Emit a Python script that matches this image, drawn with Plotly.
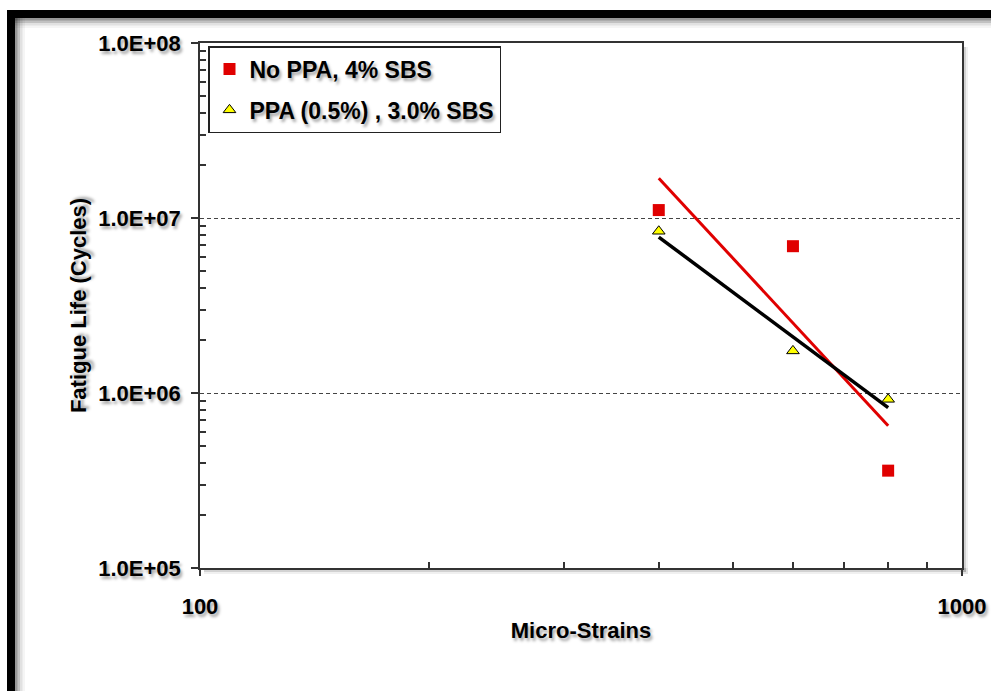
import numpy as np
import plotly.graph_objects as go

# ---- data ----
strain = [400, 600, 800]
life_no_ppa = [1.11e7, 6.9e6, 3.6e5]
life_ppa = [8.4e6, 1.74e6, 9.2e5]
name_no_ppa = "No PPA, 4% SBS"
name_ppa = "PPA (0.5%) , 3.0% SBS"
x_ticks = [100, 1000]
x_ticktext = ["100", "1000"]
y_ticks = [1e5, 1e6, 1e7, 1e8]
y_ticktext = ["1.0E+05", "1.0E+06", "1.0E+07", "1.0E+08"]

# minor tick positions: digits 2..9 inside each decade
x_minor = [d * 100 for d in range(2, 10)]
y_minor = [d * 10 ** e for e in (5, 6, 7) for d in range(2, 10)]

# power-law trendlines (fitted in log-log space)
def power_fit(x, y):
    b, a = np.polyfit(np.log10(x), np.log10(y), 1)
    xs = np.array([min(x), max(x)], dtype=float)
    return xs, 10 ** (a + b * np.log10(xs))

tx1, ty1 = power_fit(strain, life_no_ppa)
tx2, ty2 = power_fit(strain, life_ppa)

W, H = 991, 691
L, R, T, B = 200, 29, 43, 123
PW, PH = W - L - R, H - T - B

def px(x):
    return (x - L) / PW

def py(y):
    return (H - B - y) / PH

FONT = "Liberation Sans, Arial, sans-serif"
SHADOW = "2px 3px 3px rgba(0,0,0,0.35)"
RED = "#e00000"

fig = go.Figure()
fig.add_trace(go.Scatter(x=tx1, y=ty1, mode="lines", line=dict(color=RED, width=3),
                         showlegend=False, hoverinfo="skip"))
fig.add_trace(go.Scatter(x=tx2, y=ty2, mode="lines", line=dict(color="black", width=3.5),
                         showlegend=False, hoverinfo="skip"))
fig.add_trace(go.Scatter(x=strain, y=life_no_ppa, mode="markers", name=name_no_ppa,
                         legendgroup="a",
                         marker=dict(symbol="square", size=12, color=RED,
                                     line=dict(width=0))))
fig.add_trace(go.Scatter(x=strain, y=life_ppa, mode="markers", name=name_ppa,
                         legendgroup="b",
                         marker=dict(symbol="triangle-up", size=11, color="#ffff00",
                                     line=dict(width=1, color="black"))))

shapes = []
# shadows of outer frame
for i, op in enumerate([0.22, 0.14, 0.08, 0.04]):
    shapes.append(dict(type="rect", xref="paper", yref="paper",
                       x0=px(15), x1=px(991), y0=py(18 + 2.5 * (i + 1)), y1=py(18),
                       fillcolor=f"rgba(0,0,0,{op})", line=dict(width=0), layer="below"))
    shapes.append(dict(type="rect", xref="paper", yref="paper",
                       x0=px(15), x1=px(15 + 2.5 * (i + 1)), y0=py(691), y1=py(18),
                       fillcolor=f"rgba(0,0,0,{op})", line=dict(width=0), layer="below"))
# shadow of plot area border
for i, op in enumerate([0.2, 0.12, 0.06]):
    shapes.append(dict(type="rect", xref="paper", yref="paper",
                       x0=1, x1=px(L + PW + 2 * (i + 1)), y0=py(H - B + 2 * (i + 1)), y1=py(T + 4),
                       fillcolor=f"rgba(0,0,0,{op})", line=dict(width=0), layer="below"))
    shapes.append(dict(type="rect", xref="paper", yref="paper",
                       x0=px(L + 4), x1=px(L + PW + 2 * (i + 1)), y0=py(H - B + 2 * (i + 1)), y1=0,
                       fillcolor=f"rgba(0,0,0,{op})", line=dict(width=0), layer="below"))
# outer black frame
shapes.append(dict(type="rect", xref="paper", yref="paper",
                   x0=px(7), x1=px(991), y0=py(18), y1=py(10),
                   fillcolor="black", line=dict(width=0), layer="above"))
shapes.append(dict(type="rect", xref="paper", yref="paper",
                   x0=px(7), x1=px(15), y0=py(691), y1=py(10),
                   fillcolor="black", line=dict(width=0), layer="above"))

fig.update_layout(
    width=W, height=H,
    margin=dict(l=L, r=R, t=T, b=B, pad=0, autoexpand=False),
    paper_bgcolor="white", plot_bgcolor="white",
    font=dict(family=FONT, size=22, color="black"),
    showlegend=True,
    legend=dict(x=px(208), y=py(46), xanchor="left", yanchor="top",
                bordercolor="#222", borderwidth=1.5, bgcolor="white",
                font=dict(family=FONT, size=23, color="black", weight="bold", shadow=SHADOW),
                traceorder="grouped", tracegroupgap=8, itemwidth=30),
    shapes=shapes,
    xaxis=dict(type="log", range=[2, 3], tickmode="array", tickvals=x_ticks, ticktext=x_ticktext,
               automargin=False,
               ticks="outside", ticklen=6, tickwidth=1.5, tickcolor="#333",
               showline=True, linecolor="#333", linewidth=1.5, mirror=True,
               showgrid=False, zeroline=False, ticklabelstandoff=12,
               minor=dict(tickmode="array", tickvals=x_minor, ticks="inside", ticklen=6,
                          tickwidth=1.5, tickcolor="#333", showgrid=False),
               tickfont=dict(family=FONT, size=22, color="black", weight="bold", shadow=SHADOW),
               title=dict(text="Micro-Strains", standoff=4,
                          font=dict(family=FONT, size=22, color="black", weight="bold", shadow=SHADOW))),
    yaxis=dict(type="log", range=[5, 8], tickmode="array", tickvals=y_ticks, ticktext=y_ticktext,
               automargin=False,
               ticks="outside", ticklen=7, tickwidth=1.5, tickcolor="#333",
               showline=True, linecolor="#333", linewidth=1.5, mirror=True,
               showgrid=True, gridcolor="#444", gridwidth=1, griddash="4px,3px",
               zeroline=False, ticklabelstandoff=6,
               minor=dict(tickmode="array", tickvals=y_minor, ticks="inside", ticklen=6,
                          tickwidth=1.5, tickcolor="#333", showgrid=False),
               tickfont=dict(family=FONT, size=22, color="black", weight="bold", shadow=SHADOW),
               title=dict(text="Fatigue Life (Cycles)", standoff=6,
                          font=dict(family=FONT, size=22, color="black", weight="bold", shadow=SHADOW))),
)

fig.write_html("out.html")
